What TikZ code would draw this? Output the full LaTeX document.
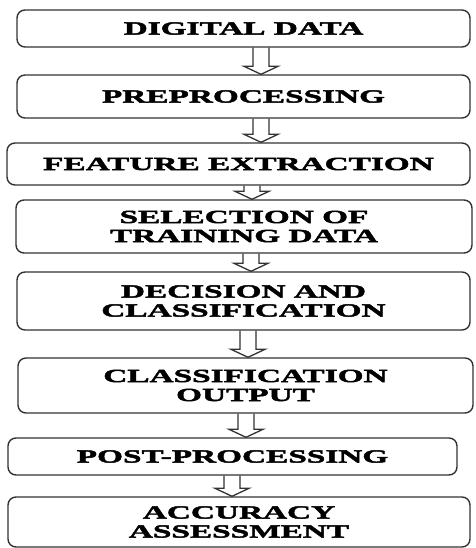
\documentclass[tikz,border=0pt]{standalone}
\usepackage{fontspec}
\newfontfamily\boxfont[FakeStretch=1.8,FakeBold=2.5]{Liberation Serif}
\usetikzlibrary{calc}
\tikzset{
  stepbox/.style={draw=black!80, line width=1.4pt, rounded corners=8pt, fill=white,
    align=center, inner sep=0pt,
    font=\boxfont\bfseries\fontsize{18.5}{19}\selectfont},
  arrowline/.style={draw=black!80, line width=1.3pt, line join=miter}
}
% #1 from node, #2 to node, #3 centre x (pt)
\newcommand\hollowarrow[3]{%
  \draw[arrowline] let \p1=(#1.south), \p2=(#2.north) in
    (#3pt-8pt,\y1) -- (#3pt-8pt,\y2+8pt) -- (#3pt-17pt,\y2+8pt) -- (#3pt,\y2)
    -- (#3pt+17pt,\y2+8pt) -- (#3pt+8pt,\y2+8pt) -- (#3pt+8pt,\y1);}
\begin{document}
\begin{tikzpicture}[x=1pt,y=-1pt]
\useasboundingbox (0,0) rectangle (475,548);
\node[stepbox, minimum width=453pt, minimum height=37pt] (b1) at (243.5,28.5) {DIGITAL DATA};
\node[stepbox, minimum width=453pt, minimum height=43pt] (b2) at (243.5,96.5) {PREPROCESSING};
\node[stepbox, minimum width=463pt, minimum height=42pt] (b3) at (238.5,164) {FEATURE EXTRACTION};
\node[stepbox, minimum width=456pt, minimum height=53pt] (b4) at (244,226.5) {SELECTION OF\\TRAINING DATA};
\node[stepbox, minimum width=453pt, minimum height=58pt] (b5) at (243.5,301) {DECISION AND\\CLASSIFICATION};
\node[stepbox, minimum width=455pt, minimum height=55pt] (b6) at (245.5,385.5) {CLASSIFICATION\\OUTPUT};
\node[stepbox, minimum width=449pt, minimum height=37pt] (b7) at (232.5,456.5) {POST-PROCESSING};
\node[stepbox, minimum width=462pt, minimum height=50pt] (b8) at (239,522) {ACCURACY\\ASSESSMENT};
\hollowarrow{b1}{b2}{261}
\hollowarrow{b2}{b3}{261}
\hollowarrow{b3}{b4}{252}
\hollowarrow{b4}{b5}{251}
\hollowarrow{b5}{b6}{248}
\hollowarrow{b6}{b7}{246}
\hollowarrow{b7}{b8}{232}
\end{tikzpicture}
\end{document}
